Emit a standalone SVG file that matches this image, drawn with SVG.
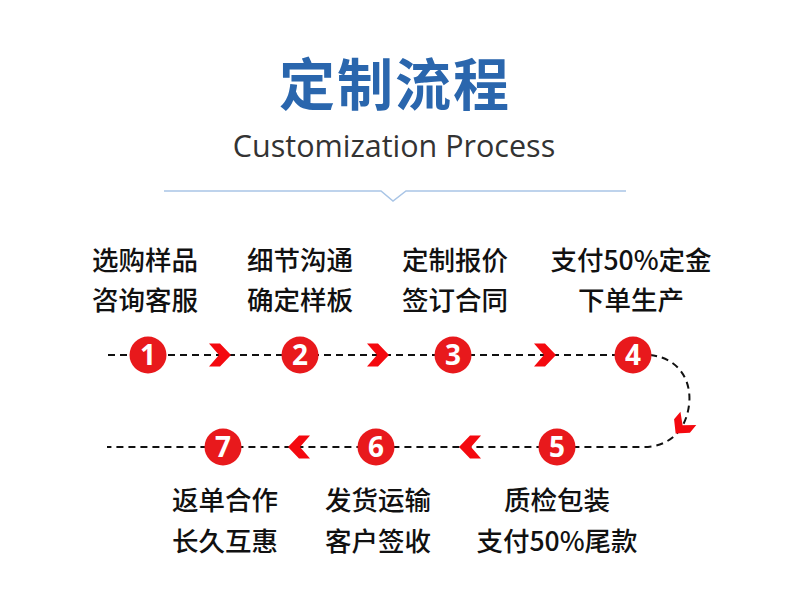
<svg xmlns="http://www.w3.org/2000/svg" width="790" height="591" viewBox="0 0 790 591">
<defs>
<style>
.t{font-family:"Noto Sans CJK SC","Noto Sans",sans-serif;font-size:26.5px;font-weight:500;fill:#111;text-anchor:middle}
.n{font-family:"Open Sans","Noto Sans",sans-serif;font-size:28px;font-weight:700;fill:#fff;text-anchor:middle}
.c{fill:#e8191c}
.dash{fill:none;stroke:#111;stroke-width:2;stroke-dasharray:7 5}
.chev{fill:#f4090f}
</style>
<path id="chevR" d="M-11,-11.5 L0,-11.5 L11,0 L0,11.5 L-11,11.5 L-1,0 Z"/>
</defs>
<rect width="790" height="591" fill="#fff"/>
<g id="header">
<text x="395" y="105" style="font-family:'Noto Sans CJK SC','Noto Sans',sans-serif;font-size:56px;font-weight:700;fill:#2a66ad;text-anchor:middle;letter-spacing:2px">定制流程</text>
<text x="394" y="157" style="font-family:'Open Sans','Noto Sans',sans-serif;font-size:30.5px;font-weight:500;fill:#333;text-anchor:middle">Customization Process</text>
<path d="M164,191 H381 L393,201 L406,191 H626" fill="none" stroke="#a9c5e6" stroke-width="1.5"/>
</g>
<g id="connectors">
<path class="dash" d="M108,355 H632"/>
<path class="dash" d="M650,355 C680,358 692,382 689,405 C686,430 670,447 643,447 H107"/>
<use href="#chevR" class="chev" transform="translate(220,355)"/>
<use href="#chevR" class="chev" transform="translate(378,355)"/>
<use href="#chevR" class="chev" transform="translate(545,355)"/>
<use href="#chevR" class="chev" transform="translate(682,426) rotate(130) scale(0.9)"/>
<use href="#chevR" class="chev" transform="translate(299,447) rotate(180)"/>
<use href="#chevR" class="chev" transform="translate(470,447) rotate(180)"/>
</g>
<g id="step1">
<circle class="c" cx="148" cy="355" r="18.5"/><text class="n" x="148" y="365">1</text>
<text class="t" x="145" y="270">选购样品</text><text class="t" x="145" y="310">咨询客服</text>
</g>
<g id="step2">
<circle class="c" cx="300" cy="355" r="18.5"/><text class="n" x="300" y="365">2</text>
<text class="t" x="300" y="270">细节沟通</text><text class="t" x="300" y="310">确定样板</text>
</g>
<g id="step3">
<circle class="c" cx="453" cy="355" r="18.5"/><text class="n" x="453" y="365">3</text>
<text class="t" x="455" y="270">定制报价</text><text class="t" x="455" y="310">签订合同</text>
</g>
<g id="step4">
<circle class="c" cx="633" cy="355" r="18.5"/><text class="n" x="633" y="365">4</text>
<text class="t" x="631" y="270">支付50%定金</text><text class="t" x="631" y="310">下单生产</text>
</g>
<g id="step5">
<circle class="c" cx="557" cy="447" r="18.5"/><text class="n" x="557" y="457">5</text>
<text class="t" x="557" y="510">质检包装</text><text class="t" x="557" y="551">支付50%尾款</text>
</g>
<g id="step6">
<circle class="c" cx="376" cy="447" r="18.5"/><text class="n" x="376" y="457">6</text>
<text class="t" x="378" y="510">发货运输</text><text class="t" x="378" y="551">客户签收</text>
</g>
<g id="step7">
<circle class="c" cx="223" cy="447" r="18.5"/><text class="n" x="223" y="457">7</text>
<text class="t" x="225" y="510">返单合作</text><text class="t" x="225" y="551">长久互惠</text>
</g>
</svg>
